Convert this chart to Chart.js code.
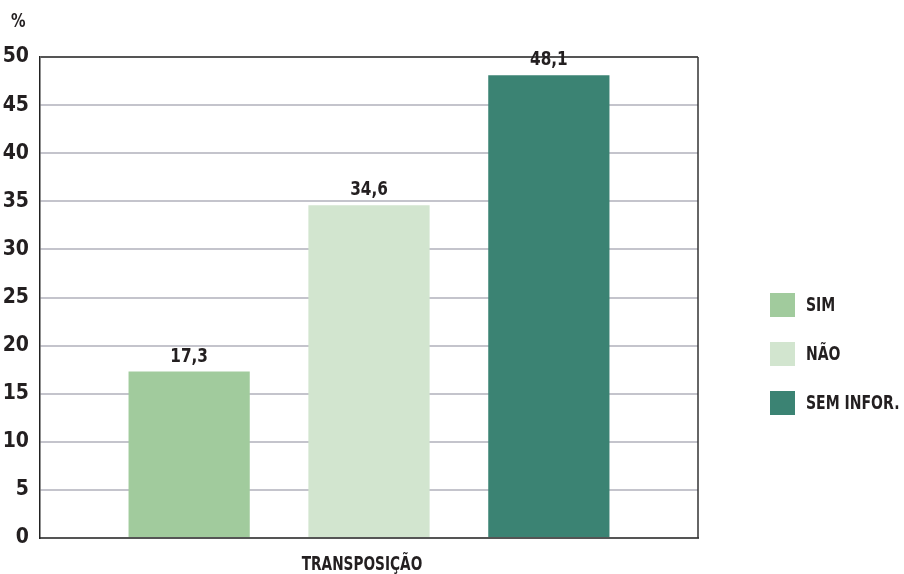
<!DOCTYPE html>
<html>
<head>
<meta charset="utf-8">
<script src="https://cdn.jsdelivr.net/npm/chart.js@4.4.1/dist/chart.umd.min.js"></script>
<style>
  html, body { margin: 0; padding: 0; background: #fff; }
  #wrap { width: 904px; height: 574px; position: relative; }
</style>
</head>
<body>
<div id="wrap"><canvas id="grafico"></canvas></div>
<script>
// dados
const categorias = ['TRANSPOSIÇÃO'];
const series = ['SIM', 'NÃO', 'SEM INFOR.'];
const valores = [17.3, 34.6, 48.1];
const cores = ['#a1cb9d', '#d2e5cf', '#3b8373'];
const ticksY = [0, 5, 10, 15, 20, 25, 30, 35, 40, 45, 50];

const fonte = "'DejaVu Sans Condensed', 'Liberation Sans Narrow', sans-serif";
const corTexto = '#231f20';

// texto estreitado na horizontal (fonte condensada)
function textoEstreito(ctx, txt, x, y, sx) {
    ctx.save();
    ctx.translate(x, y);
    ctx.scale(sx, 1);
    ctx.fillText(txt, 0, 0);
    ctx.restore();
}

// rótulos de valor, legenda lateral, categoria, "%" e moldura direita
const extras = {
    id: 'extras',
    afterDatasetsDraw(chart) {
        const ctx = chart.ctx;
        const area = chart.chartArea;
        ctx.save();

        // borda direita
        ctx.strokeStyle = '#333';
        ctx.lineWidth = 1.5;
        ctx.beginPath();
        ctx.moveTo(area.right, area.top);
        ctx.lineTo(area.right, area.bottom);
        ctx.stroke();

        // valores acima das barras
        ctx.fillStyle = corTexto;
        ctx.font = 'bold 20px ' + fonte;
        ctx.textAlign = 'center';
        ctx.textBaseline = 'alphabetic';
        chart.data.datasets.forEach((ds, i) => {
            const bar = chart.getDatasetMeta(i).data[0];
            const txt = ds.data[0].toFixed(1).replace('.', ',');
            textoEstreito(ctx, txt, bar.x, bar.y - 10, 0.85);
        });

        // categoria no eixo x
        const xs = chart.scales.x;
        ctx.font = 'bold 19px ' + fonte;
        chart.data.labels.forEach((lab, i) => {
            textoEstreito(ctx, lab, xs.getPixelForTick(i) - 7, area.bottom + 32, 0.8);
        });

        // unidade
        ctx.textAlign = 'left';
        ctx.font = 'bold 19px ' + fonte;
        textoEstreito(ctx, '%', 11, 27, 0.85);

        // legenda
        ctx.font = 'bold 20px ' + fonte;
        ctx.textBaseline = 'middle';
        chart.data.datasets.forEach((ds, i) => {
            const y = 293 + i * 49;
            ctx.fillStyle = ds.backgroundColor;
            ctx.fillRect(770, y, 25, 24);
            ctx.fillStyle = corTexto;
            textoEstreito(ctx, ds.label, 806, y + 13, 0.78);
        });

        ctx.restore();
    }
};

new Chart(document.getElementById('grafico'), {
    type: 'bar',
    data: {
        labels: categorias,
        datasets: series.map((nome, i) => ({
            label: nome,
            data: [valores[i]],
            backgroundColor: cores[i],
            borderWidth: 0
        }))
    },
    options: {
        responsive: true,
        maintainAspectRatio: false,
        animation: false,
        categoryPercentage: 0.82,
        barPercentage: 0.674,
        layout: { padding: { top: 57, right: 206, left: 0, bottom: 0 } },
        plugins: {
            legend: { display: false },
            tooltip: { enabled: false }
        },
        scales: {
            x: {
                afterFit(scale) { scale.height = 36; },
                grid: { display: false, drawTicks: false },
                border: { color: '#555', width: 2 },
                ticks: { display: false }
            },
            y: {
                min: 0,
                max: 50,
                afterFit(scale) { scale.width = 40; },
                afterBuildTicks(scale) { scale.ticks = ticksY.map(v => ({ value: v })); },
                border: { color: '#222', width: 1.5 },
                grid: {
                    drawTicks: false,
                    lineWidth: 2,
                    color: c => c.tick.value === 50 ? '#555' : '#c4c4cc'
                },
                ticks: {
                    color: corTexto,
                    padding: 11,
                    font: { family: fonte, weight: 'bold', size: 21 }
                }
            }
        }
    },
    plugins: [extras]
});
</script>
</body>
</html>
